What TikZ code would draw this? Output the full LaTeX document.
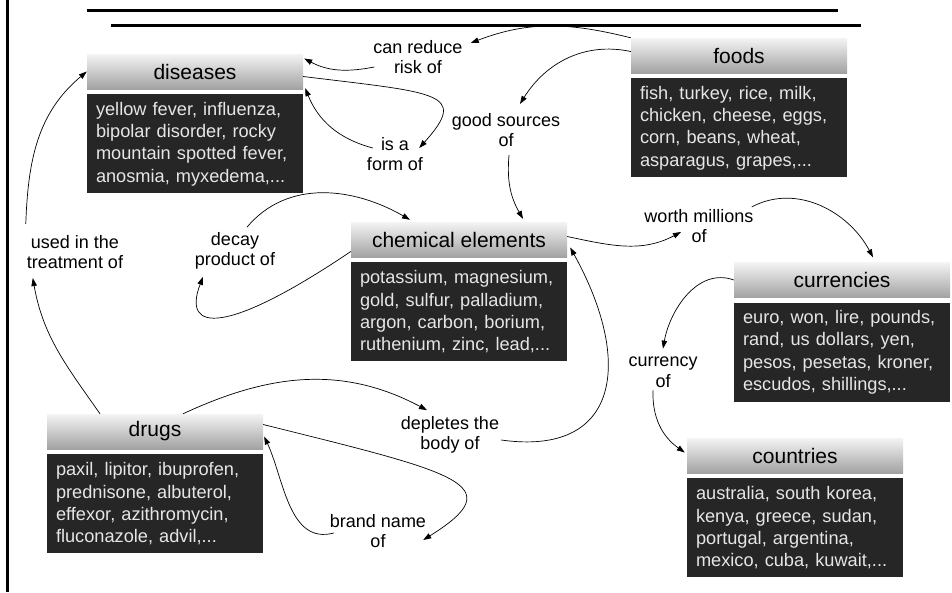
\documentclass[tikz,border=0pt]{standalone}
\usepackage{fontspec}
\setmainfont{Liberation Sans}
\definecolor{listgray}{HTML}{262626}
\definecolor{listtext}{HTML}{E6E6E6}
\definecolor{headtop}{HTML}{F4F4F4}
\definecolor{headbottom}{HTML}{A2A2A2}
\usetikzlibrary{arrows.meta, positioning}

\begin{document}
\begin{tikzpicture}[x=1pt, y=1pt, >={Triangle[length=8pt,width=5.5pt]},
        head/.style={rectangle, top color=headtop, bottom color=headbottom, minimum width=216pt, minimum height=35pt, inner sep=0pt, font=\fontsize{21}{24}\selectfont},
        list/.style={rectangle, fill=listgray, text=listtext, text width=198pt, inner xsep=9pt, inner ysep=0pt, minimum height=99pt, align=left, below=5pt of #1, font=\fontsize{18.2}{22.3}\selectfont},
        rel/.style={align=center, inner sep=2pt, font=\fontsize{18}{20.5}\selectfont},
        link/.style={->, line width=0.7pt}]
        \useasboundingbox (0,0) rectangle (952,-592);
        \draw[line width=3pt] (7.5,0) -- (7.5,-592);
        \draw[line width=3pt] (87,-10) -- (838,-10);
        \draw[line width=3pt] (111,-25.5) -- (861,-25.5);

        \node[head] (dis) at (195,-71.5) {diseases};
        \node[list=dis] (dislist) {yellow fever, influenza,\\bipolar disorder, rocky\\mountain spotted fever,\\anosmia, myxedema,...};
        \node[head] (food) at (739,-55.5) {foods};
        \node[list=food] (foodlist) {fish, turkey, rice, milk,\\chicken, cheese, eggs,\\corn, beans, wheat,\\asparagus, grapes,...};
        \node[head] (chem) at (459,-239.5) {chemical elements};
        \node[list=chem] (chemlist) {potassium, magnesium,\\gold, sulfur, palladium,\\argon, carbon, borium,\\ruthenium, zinc, lead,...};
        \node[head] (cur) at (842,-280) {currencies};
        \node[list=cur] (curlist) {euro, won, lire, pounds,\\rand, us dollars, yen,\\pesos, pesetas, kroner,\\escudos, shillings,...};
        \node[head] (drug) at (155,-431.5) {drugs};
        \node[list=drug] (druglist) {paxil, lipitor, ibuprofen,\\prednisone, albuterol,\\effexor, azithromycin,\\fluconazole, advil,...};
        \node[head] (ctry) at (795,-455.5) {countries};
        \node[list=ctry] (ctrylist) {australia, south korea,\\kenya, greece, sudan,\\portugal, argentina,\\mexico, cuba, kuwait,...};

        \node[rel] (reduce) at (418,-57) {can reduce\\risk of};
        \node[rel] (formof) at (395,-154) {is a\\form of};
        \node[rel] (sources) at (506,-130) {good sources\\of};
        \node[rel] (decay) at (235,-251) {decay\\product of};
        \node[rel] (worth) at (699,-226) {worth millions\\of};
        \node[rel] (curof) at (663,-372) {currency\\of};
        \node[rel] (treat) at (75,-252) {used in the\\treatment of};
        \node[rel] (deplete) at (450,-435) {depletes the\\body of};
        \node[rel] (brand) at (378,-531) {brand name\\of};

        \draw[link] (food.north west) to[out=166,in=21] ([xshift=6pt,yshift=14pt]reduce.east);
        \draw[link] ([xshift=3pt,yshift=-10pt]reduce.west) to[out=191,in=-28] ([xshift=1pt,yshift=13pt]dis.east);
        \draw[link] ([yshift=-5pt]dis.east) .. controls +(-7:135) and +(48:75) .. ([xshift=-6pt,yshift=6pt]formof.east);
        \draw[link] ([xshift=8pt,yshift=6pt]formof.west) to[out=165,in=-68] ([xshift=2pt,yshift=1pt]dis.south east);
        \draw[link] ([yshift=4pt]food.west) to[out=168,in=58] ([xshift=14pt,yshift=7pt]sources.north);
        \draw[link] ([xshift=3pt,yshift=-6pt]sources.south) to[out=265,in=120] ([xshift=64pt,yshift=3pt]chem.north);
        \draw[link] ([yshift=-12pt]chem.west) .. controls +(214:150) and +(-111:60) .. ([xshift=-32pt,yshift=-5pt]decay.south);
        \draw[link] ([xshift=12pt,yshift=3pt]decay.north) to[out=50,in=150] ([xshift=-49pt,yshift=2pt]chem.north);
        \draw[link] ([yshift=3pt]chem.east) to[out=-12,in=-152] ([xshift=-18pt,yshift=-6pt]worth.center);
        \draw[link] ([xshift=-4pt]worth.north east) to[out=28,in=118] ([xshift=31pt,yshift=5pt]cur.north);
        \draw[link] (cur.west) to[out=160,in=80] ([yshift=6pt]curof.north);
        \draw[link] ([xshift=-10pt,yshift=-1pt]curof.south) to[out=268,in=145] ([xshift=-2pt,yshift=3pt]ctry.west);
        \draw[link] ([xshift=-55pt]drug.north) to[out=125,in=-80] ([xshift=8pt,yshift=-7pt]treat.south west);
        \draw[link] ([xshift=1pt,yshift=9pt]treat.north west) to[out=88,in=-140] (dis.west);
        \draw[link] ([xshift=28pt]drug.north) to[out=25,in=152] ([xshift=-23pt,yshift=4pt]deplete.north);
        \draw[link] ([yshift=-5pt]deplete.east) .. controls +(-8:120) and +(-61:130) .. ([xshift=3pt,yshift=-8pt]chem.east);
        \draw[link] ([yshift=7pt]drug.east) .. controls +(-14:200) and +(32:105) .. ([xshift=-5pt,yshift=-9pt]brand.east);
        \draw[link] ([xshift=6pt,yshift=-2pt]brand.west) to[out=195,in=-65] ([xshift=1pt,yshift=-5pt]drug.east);
    \end{tikzpicture}
\end{document}
